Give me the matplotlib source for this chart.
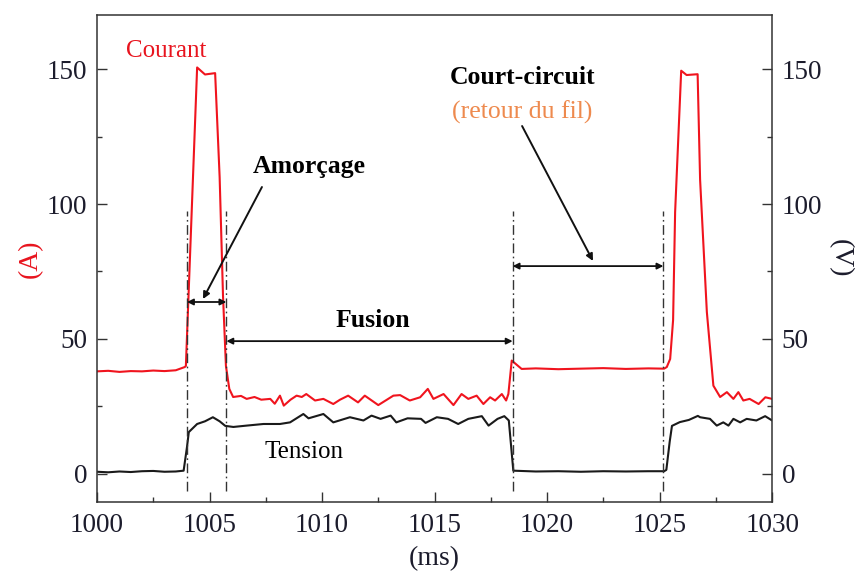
import numpy as np
import matplotlib
matplotlib.use('Agg')
from matplotlib import pyplot as plt
from matplotlib.ticker import MultipleLocator

plt.rcParams['font.family'] = ['Liberation Serif', 'DejaVu Serif']

# courant (A)
t_courant = [1000.0, 1000.5, 1001.0, 1001.5, 1002.0, 1002.5, 1003.0, 1003.5, 1003.9,
             1003.95, 1004.45, 1004.8, 1005.25, 1005.45, 1005.6, 1005.73,
             1005.88, 1006.05, 1006.4, 1006.65, 1007.0, 1007.3, 1007.7, 1007.9, 1008.13,
             1008.3, 1008.6, 1008.87, 1009.1, 1009.3, 1009.69, 1010.06, 1010.5, 1010.8,
             1011.16, 1011.6, 1011.9, 1012.5, 1013.17, 1013.47, 1013.9, 1014.36, 1014.7,
             1014.95, 1015.4, 1015.84, 1016.2, 1016.5, 1016.87, 1017.17, 1017.47, 1017.69,
             1017.99, 1018.18, 1018.28, 1018.43, 1018.87, 1019.5, 1020.5, 1021.5, 1022.5,
             1023.5, 1024.5, 1025.2, 1025.32, 1025.47, 1025.6, 1025.69, 1025.96, 1026.2,
             1026.69, 1026.8, 1027.1, 1027.39, 1027.69, 1027.99, 1028.28, 1028.5, 1028.72,
             1029.0, 1029.4, 1029.7, 1030.0]
courant = [38.0, 38.2, 37.8, 38.1, 38.0, 38.3, 38.1, 38.4, 39.6,
           40.0, 150.6, 148.0, 148.5, 110.0, 66.0, 40.0,
           31.5, 28.5, 28.9, 27.8, 28.5, 27.5, 27.8, 26.0, 29.0,
           25.3, 27.5, 29.0, 28.5, 29.6, 27.2, 27.8, 25.9, 27.5,
           29.0, 26.5, 29.0, 25.5, 29.0, 29.2, 27.2, 28.4, 31.5,
           27.8, 29.6, 25.5, 29.6, 27.8, 29.0, 25.9, 28.4, 27.2,
           29.6, 27.2, 29.6, 42.0, 38.9, 39.1, 38.8, 39.0, 39.2,
           38.9, 39.1, 39.0, 39.6, 42.6, 57.0, 97.0, 149.4, 147.8,
           148.1, 109.0, 60.0, 32.7, 28.5, 30.3, 27.8, 30.3, 27.2,
           27.8, 25.9, 28.4, 27.8]

# tension (V)
t_tension = [1000.0, 1000.5, 1001.0, 1001.5, 1002.0, 1002.5, 1003.0, 1003.5, 1003.85,
             1004.0, 1004.08, 1004.45, 1004.8, 1005.15, 1005.45, 1005.7, 1006.06, 1006.65,
             1007.4, 1008.13, 1008.58, 1009.17, 1009.4, 1010.06, 1010.5, 1011.24, 1011.84,
             1012.2, 1012.6, 1013.05, 1013.3, 1013.8, 1014.4, 1014.6, 1015.1, 1015.6,
             1016.05, 1016.5, 1017.1, 1017.4, 1017.8, 1018.1, 1018.3, 1018.4, 1018.5,
             1019.5, 1020.5, 1021.5, 1022.5, 1023.5, 1024.5, 1025.2, 1025.3, 1025.45,
             1025.55, 1025.9, 1026.3, 1026.7, 1026.8, 1027.24, 1027.54, 1027.83, 1028.06,
             1028.28, 1028.58, 1028.87, 1029.3, 1029.69, 1030.0]
tension = [0.8, 0.6, 0.9, 0.7, 1.0, 1.1, 0.8, 0.9, 1.2,
           10.0, 15.5, 18.5, 19.5, 21.0, 19.5, 17.8, 17.4, 17.9,
           18.5, 18.5, 19.1, 22.2, 20.6, 22.2, 19.1, 21.0, 19.8,
           21.6, 20.4, 21.6, 19.1, 20.6, 20.4, 18.9, 21.0, 20.4,
           18.5, 20.4, 21.4, 17.9, 20.4, 21.4, 19.8, 10.5, 1.2,
           0.9, 1.0, 0.8, 1.0, 0.9, 1.0, 1.0, 1.5, 12.0,
           17.8, 19.2, 20.0, 21.5, 21.0, 20.4, 17.9, 19.1, 17.9,
           20.4, 19.1, 20.4, 19.8, 21.4, 19.8]

# phase limits (ms)
limites = [1004.0, 1005.75, 1018.47, 1025.17]

fig = plt.figure(figsize=(8.56, 5.81), dpi=100)
ax = fig.add_axes([0.1133, 0.136, 0.7887, 0.838])
ax2 = ax.twinx()

ax.plot(t_courant, courant, color='#F0141E', lw=1.5)
ax.plot(t_tension, tension, color='#1a1a1a', lw=1.5)

for x in limites:
    ax.plot([x, x], [-6.5, 97.5], color='#333333', lw=1.0, linestyle=(0, (7, 2.5, 1.2, 2.5)))

ax.set_xlim(1000, 1030)
for a in (ax, ax2):
    a.set_ylim(-10.4, 170)
    a.yaxis.set_major_locator(MultipleLocator(50))
    a.yaxis.set_minor_locator(MultipleLocator(25))
    a.tick_params(which='both', direction='in', colors='#333333', labelcolor='#1c1c2c',
                  labelsize=19.5, width=1)
    a.tick_params(which='major', length=7)
    a.tick_params(which='minor', length=3.8)
    a.tick_params(axis='y', pad=7)
ax.xaxis.set_major_locator(MultipleLocator(5))
ax.xaxis.set_minor_locator(MultipleLocator(2.5))
ax.tick_params(axis='x', pad=8)
ax.tick_params(top=False, which='both')
for s in ax.spines.values():
    s.set_color('#333333')
    s.set_linewidth(1.1)
ax2.spines[:].set_visible(False)

ax.set_xlabel('(ms)', fontsize=20, color='#1c1c2c', labelpad=6)
ax.set_ylabel('(A)', fontsize=20, color='#E8141E', labelpad=3)
ax2.set_ylabel('(V)', fontsize=20, color='#1c1c2c', rotation=-90, labelpad=22)

# double arrows
ap2 = dict(arrowstyle='<|-|>', color='#111111', lw=1.3, mutation_scale=9, shrinkA=0, shrinkB=0)
ax.annotate('', xy=(limites[0], 63.7), xytext=(limites[1], 63.7), arrowprops=ap2)
ax.annotate('', xy=(limites[1], 49.2), xytext=(limites[2], 49.2), arrowprops=ap2)
ax.annotate('', xy=(limites[2], 77.0), xytext=(limites[3], 77.0), arrowprops=ap2)

ap1 = dict(arrowstyle='-|>', color='#111111', lw=1.4, mutation_scale=10, shrinkA=0, shrinkB=0)
ax.annotate('', xy=(1004.71, 64.8), xytext=(1007.33, 106.3), arrowprops=ap1)
ax.annotate('', xy=(1022.04, 78.9), xytext=(1018.89, 128.9), arrowprops=ap1)

ax.text(1003.09, 156.7, 'Courant', color='#E8141E', fontsize=18, ha='center', va='center')
ax.text(1009.42, 114, 'Amorçage', fontsize=18.5, fontweight='bold', ha='center', va='center')
ax.text(1012.27, 56.7, 'Fusion', fontsize=18.5, fontweight='bold', ha='center', va='center')
ax.text(1018.93, 146.7, 'Court-circuit', fontsize=18.5, fontweight='bold', ha='center', va='center')
ax.text(1018.9, 134, '(retour du fil)', color='#EE8A4E', fontsize=18.5, ha='center', va='center')
ax.text(1009.2, 8.1, 'Tension', fontsize=18, ha='center', va='center')

plt.savefig('out.png', dpi=100)
